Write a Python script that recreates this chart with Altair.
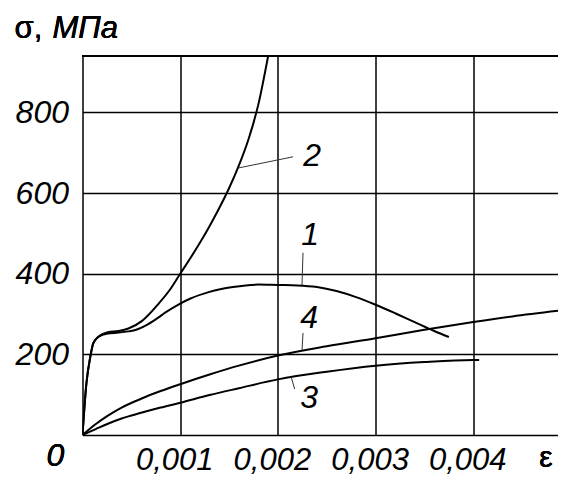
import altair as alt
import pandas as pd

# ---- data ----
eps_1 = [0, 0.00004, 0.00008, 0.00011, 0.00016, 0.00026, 0.00037, 0.00047, 0.00055, 0.00065,
         0.00075, 0.00085, 0.001, 0.0011, 0.0013, 0.00154, 0.0018, 0.002, 0.0022, 0.0024,
         0.0026, 0.0028, 0.003, 0.0032, 0.0034, 0.0036, 0.00375]
sig_1 = [0, 128, 194, 227, 243, 252, 254, 257, 261, 272,
         287, 304, 326, 338, 355, 367, 373, 372, 371, 367,
         357, 342, 323, 302, 280, 258, 243]

eps_2 = [0, 0.00004, 0.00008, 0.00011, 0.00016, 0.00026, 0.00037, 0.00047, 0.00061, 0.00078,
         0.0009, 0.001, 0.0011, 0.0012, 0.0013, 0.0014, 0.0015, 0.0016, 0.0017, 0.0018, 0.0019]
sig_2 = [0, 128, 194, 227, 243, 255, 258, 264, 283, 326,
         362, 400, 437, 476, 518, 563, 612, 668, 734, 820, 940]

eps_3 = [0, 0.00013, 0.00026, 0.0004, 0.0006, 0.0008, 0.001, 0.0013, 0.0016, 0.002, 0.0025,
         0.003, 0.0035, 0.004, 0.00406]
sig_3 = [0, 14, 28, 41, 55, 68, 80, 99, 116, 138, 157, 172, 181, 186, 186]

eps_4 = [0, 0.00013, 0.00026, 0.0004, 0.0006, 0.0008, 0.001, 0.0013, 0.0016, 0.002, 0.0025,
         0.003, 0.0035, 0.004, 0.0044, 0.00487]
sig_4 = [0, 26, 48, 68, 90, 109, 126, 150, 172, 197, 220, 240, 261, 280, 294, 308]

curve_names = ["1", "2", "3", "4"]

label_text = ["2", "1", "4", "3"]
label_eps = [0.00235, 0.00233, 0.00232, 0.00232]
label_sig = [692, 496, 290, 91]

leader_eps_a = [0.00159, 0.002257, 0.002257, 0.002137]
leader_sig_a = [662, 452, 253, 143]
leader_eps_b = [0.002155, 0.002247, 0.002247, 0.002172]
leader_sig_b = [690, 372, 210, 114]

x_ticks = [0.001, 0.002, 0.003, 0.004]
y_ticks = [200, 400, 600, 800]
x_max = 0.004867
y_max = 940

# ---- tables ----
rows = []
for name, xs, ys in zip(curve_names, [eps_1, eps_2, eps_3, eps_4], [sig_1, sig_2, sig_3, sig_4]):
    for i, (x, y) in enumerate(zip(xs, ys)):
        rows.append({"curve": name, "eps": x, "sig": y, "order": i})
curves = pd.DataFrame(rows)
labels = pd.DataFrame({"t": label_text, "eps": label_eps, "sig": label_sig})
leaders = pd.DataFrame({"xa": leader_eps_a, "ya": leader_sig_a, "xb": leader_eps_b, "yb": leader_sig_b})

W = 475.5
H = 379
FONT = "Liberation Sans"
FS = 32

xs = alt.Scale(domain=[0, x_max], nice=False, zero=False)
ys = alt.Scale(domain=[0, y_max], nice=False, zero=False)

x_axis = alt.Axis(values=x_ticks, title=None, grid=True, ticks=False, domain=True,
                  domainColor="black", domainWidth=1.5, gridColor="black", gridWidth=1.5, gridOpacity=1,
                  labelExpr="replace(format(datum.value, '.3f'), '.', ',')",
                  labelFont=FONT, labelFontStyle="italic", labelFontSize=31, labelColor="black",
                  labelPadding=10, labelOffset=-6, labelFlush=False, labelOverlap=False)
y_axis = alt.Axis(values=y_ticks, title=None, grid=True, ticks=False, domain=True,
                  domainColor="black", domainWidth=1.5, gridColor="black", gridWidth=1.5, gridOpacity=1,
                  format="d",
                  labelFont=FONT, labelFontStyle="italic", labelFontSize=FS, labelColor="black",
                  labelPadding=14, labelFlush=False, labelOverlap=False)

lines = alt.Chart(curves).mark_line(color="black", strokeWidth=2, interpolate="monotone", clip=True).encode(
    x=alt.X("eps:Q", scale=xs, axis=x_axis),
    y=alt.Y("sig:Q", scale=ys, axis=y_axis),
    detail="curve:N",
    order="order:Q",
)

top_border = alt.Chart(curves).mark_rule(color="black", strokeWidth=1.5).encode(
    x=alt.value(0), x2=alt.value(W), y=alt.value(0)
)

leader_lines = alt.Chart(leaders).mark_rule(color="#333333", strokeWidth=1).encode(
    x=alt.X("xa:Q", scale=xs), y=alt.Y("ya:Q", scale=ys),
    x2="xb:Q", y2="yb:Q",
)

curve_labels = alt.Chart(labels).mark_text(font=FONT, fontStyle="italic", fontSize=FS, color="black",
                                           align="center", baseline="middle").encode(
    x=alt.X("eps:Q", scale=xs), y=alt.Y("sig:Q", scale=ys), text="t:N"
)

zero_label = alt.Chart(labels).mark_text(font=FONT, fontStyle="italic", fontSize=FS, color="black",
                                         align="center", baseline="middle", dx=-27, dy=21).encode(
    x=alt.datum(0, scale=xs), y=alt.datum(0, scale=ys), text=alt.value("0")
)

eps_label = alt.Chart(labels).mark_text(font=FONT, fontSize=30, color="black",
                                        align="center", baseline="middle").encode(
    x=alt.value(W - 12), y=alt.value(H + 23), text=alt.value("ε")
)

sigma_label = alt.Chart(labels).mark_text(font=FONT, fontSize=31, color="black",
                                          align="left", baseline="alphabetic").encode(
    x=alt.value(-68), y=alt.value(-18.5), text=alt.value("σ,")
)
unit_label = alt.Chart(labels).mark_text(font=FONT, fontStyle="italic", fontSize=31, color="black",
                                         align="left", baseline="alphabetic").encode(
    x=alt.value(-30), y=alt.value(-18.5), text=alt.value("МПа")
)

chart = alt.layer(
    lines, top_border, leader_lines, curve_labels, zero_label, eps_label, sigma_label, unit_label
).properties(
    width=W, height=H,
    autosize=alt.AutoSizeParams(type="none"),
    padding={"left": 74.5, "top": 48, "right": 0, "bottom": 41},
    background="white",
).configure_view(stroke=None)

chart.save("out.html", embed_options={"renderer": "svg", "actions": False})
